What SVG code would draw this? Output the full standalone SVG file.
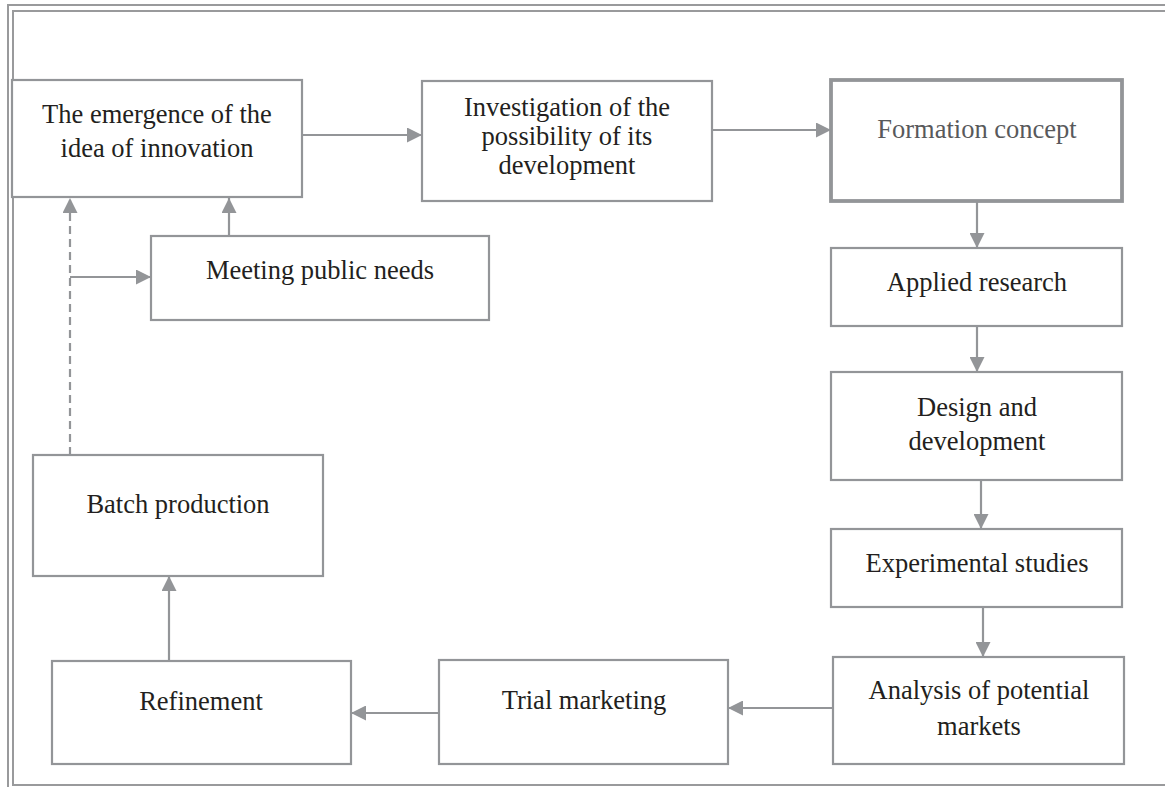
<svg xmlns="http://www.w3.org/2000/svg" width="1165" height="787" viewBox="0 0 1165 787">
<style>
.box{fill:#fff;stroke:#939598;stroke-width:2.2}
.thick{stroke-width:3.8}
.t{font-family:"Liberation Serif","Times New Roman",serif;font-size:26.5px;fill:#231f20;text-anchor:middle}
.g{fill:#58595b}
.c{fill:none;stroke:#939598;stroke-width:2.2}
.d{stroke-dasharray:8,5}
.f{fill:none;stroke:#999a9c;stroke-width:2}
</style>
<defs>
<marker id="ah" markerUnits="userSpaceOnUse" markerWidth="15" markerHeight="15" refX="15" refY="7.5" orient="auto">
<path d="M0,0 L15,7.5 L0,15 z" fill="#939598"/>
</marker>
</defs>
<rect width="1165" height="787" fill="#fff"/>
<g id="frame">
<path class="f" d="M8,787 V5 H1165"/>
<path class="f" d="M1165,11 H13 V785 H1165"/>
</g>
<g id="connectors">
<path class="c" d="M302,135 H422" marker-end="url(#ah)"/>
<path class="c" d="M712,130 H831" marker-end="url(#ah)"/>
<path class="c" d="M977,201 V248" marker-end="url(#ah)"/>
<path class="c" d="M977,327 V372" marker-end="url(#ah)"/>
<path class="c" d="M981,480 V529" marker-end="url(#ah)"/>
<path class="c" d="M983,607 V657" marker-end="url(#ah)"/>
<path class="c" d="M833,708 H728" marker-end="url(#ah)"/>
<path class="c" d="M439,713 H351" marker-end="url(#ah)"/>
<path class="c" d="M169,661 V576" marker-end="url(#ah)"/>
<path class="c d" d="M70,455 V198" marker-end="url(#ah)"/>
<path class="c" d="M70,277 H151" marker-end="url(#ah)"/>
<path class="c" d="M229,236 V198" marker-end="url(#ah)"/>
</g>
<g id="n-emergence">
<rect class="box" x="12" y="80" width="290" height="117"/>
<text class="t" x="157" y="123">The emergence of the</text>
<text class="t" x="157" y="157">idea of innovation</text>
</g>
<g id="n-investigation">
<rect class="box" x="422" y="81" width="290" height="120"/>
<text class="t" x="567" y="116">Investigation of the</text>
<text class="t" x="567" y="145">possibility of its</text>
<text class="t" x="567" y="174">development</text>
</g>
<g id="n-formation">
<rect class="box thick" x="831" y="80" width="291" height="121"/>
<text class="t g" x="977" y="138">Formation concept</text>
</g>
<g id="n-applied">
<rect class="box" x="831" y="248" width="291" height="78"/>
<text class="t" x="977" y="291">Applied research</text>
</g>
<g id="n-design">
<rect class="box" x="831" y="372" width="291" height="108"/>
<text class="t" x="977" y="416">Design and</text>
<text class="t" x="977" y="450">development</text>
</g>
<g id="n-experimental">
<rect class="box" x="831" y="529" width="291" height="78"/>
<text class="t" x="977" y="572">Experimental studies</text>
</g>
<g id="n-analysis">
<rect class="box" x="833" y="657" width="291" height="107"/>
<text class="t" x="979" y="699">Analysis of potential</text>
<text class="t" x="979" y="735">markets</text>
</g>
<g id="n-trial">
<rect class="box" x="439" y="660" width="289" height="104"/>
<text class="t" x="584" y="709">Trial marketing</text>
</g>
<g id="n-refinement">
<rect class="box" x="52" y="661" width="299" height="103"/>
<text class="t" x="201" y="710">Refinement</text>
</g>
<g id="n-batch">
<rect class="box" x="33" y="455" width="290" height="121"/>
<text class="t" x="178" y="513">Batch production</text>
</g>
<g id="n-meeting">
<rect class="box" x="151" y="236" width="338" height="84"/>
<text class="t" x="320" y="279">Meeting public needs</text>
</g>
</svg>
